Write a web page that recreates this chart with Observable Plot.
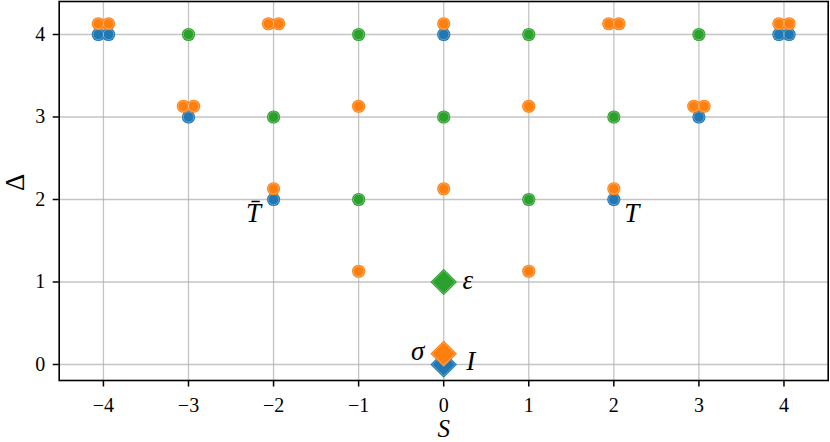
<!DOCTYPE html>
<html><head><meta charset="utf-8">
<script src="https://cdn.jsdelivr.net/npm/d3@7"></script>
<script src="https://cdn.jsdelivr.net/npm/@observablehq/plot@0.6"></script>
<style>
body{margin:0;background:#fff;}
#chart svg{display:block;}
</style></head><body><div id="chart"></div>
<script>
// tick values / labels
const xTicks = [-4, -3, -2, -1, 0, 1, 2, 3, 4];
const xTickLabels = ["−4", "−3", "−2", "−1", "0", "1", "2", "3", "4"];
const yTicks = [0, 1, 2, 3, 4];
const yTickLabels = ["0", "1", "2", "3", "4"];

// blue circles
const blueS = [-4.06, -3.94, 0, 3.94, 4.06, -3, 3, -2, 2];
const blueD = [4, 4, 4, 4, 4, 3, 3, 2, 2];
// orange circles
const orangeS = [-4.06, -3.94, -2.06, -1.94, 0, 1.94, 2.06, 3.94, 4.06,
                 -3.06, -2.94, -1, 1, 2.94, 3.06,
                 -2, 0, 2,
                 -1, 1];
const orangeD = [4.13, 4.13, 4.13, 4.13, 4.13, 4.13, 4.13, 4.13, 4.13,
                 3.13, 3.13, 3.13, 3.13, 3.13, 3.13,
                 2.13, 2.13, 2.13,
                 1.13, 1.13];
// green circles
const greenS = [-3, -1, 1, 3, -2, 0, 2, -1, 1];
const greenD = [4, 4, 4, 4, 3, 3, 3, 2, 2];
// diamonds
const diamondS = [0, 0, 0];
const diamondD = [0, 0.13, 1];
const diamondColor = ["blue", "orange", "green"];
// annotations
const annText = ["T\u0304", "T", "ε", "σ", "I"];
const annS = [-2, 2, 0, 0, 0];
const annD = [2, 2, 1, 0.13, 0];

const colors = {blue: "#1f77b4", orange: "#ff7f0e", green: "#2ca02c"};
const toRows = (S, D, c) => S.map((s, i) => ({S: s, D: D[i], c: c ?? null}));
const blue = toRows(blueS, blueD, "blue");
const orange = toRows(orangeS, orangeD, "orange");
const green = toRows(greenS, greenD, "green");
const diamonds = diamondS.map((s, i) => ({S: s, D: diamondD[i], c: diamondColor[i]}));
const ann = annText.map((t, i) => ({t, S: annS[i], D: annD[i]}));

const fmtX = d => xTickLabels[xTicks.indexOf(d)];
const fmtY = d => yTickLabels[yTicks.indexOf(d)];

const circle = (data) => [
  Plot.dot(data, {x: "S", y: "D", r: 6.6, fill: d => colors[d.c], stroke: "none"}),
  Plot.dot(data, {x: "S", y: "D", r: 5.2, fill: "none", stroke: "#fff", strokeOpacity: 0.45, strokeWidth: 0.7})
];
const diamond = (row) => [
  Plot.dot([row], {x: "S", y: "D", r: 12, symbol: "diamond2", fill: colors[row.c], stroke: "none"}),
  Plot.dot([row], {x: "S", y: "D", r: 10.3, symbol: "diamond2", fill: "none", stroke: "#fff", strokeOpacity: 0.45, strokeWidth: 0.7})
];
const label = (i, dx, dy, fs) => Plot.text([ann[i]], {x: "S", y: "D", text: "t", dx, dy, fontStyle: "italic", fontSize: fs, textAnchor: "middle", lineAnchor: "middle", fill: "#000"});

const chart = Plot.plot({
  width: 830, height: 442,
  marginLeft: 58.7, marginRight: 2.3, marginTop: 1, marginBottom: 62,
  style: {fontFamily: "'Liberation Serif', serif", fontSize: "20px", color: "#000", background: "#fff"},
  x: {domain: [-4.52, 4.52]},
  y: {domain: [-0.194, 4.4]},
  marks: [
    Plot.gridX(xTicks, {stroke: "#b0b0b0", strokeOpacity: 0.75, strokeWidth: 1.3}),
    Plot.gridY(yTicks, {stroke: "#b0b0b0", strokeOpacity: 0.75, strokeWidth: 1.3}),
    Plot.axisX(xTicks, {tickFormat: fmtX, tickSize: 6.5, tickPadding: 11, strokeWidth: 1.5, label: null, fontSize: 20}),
    Plot.axisY(yTicks, {tickFormat: fmtY, tickSize: 6, tickPadding: 8, strokeWidth: 1.5, label: null, fontSize: 20}),
    ...circle(blue),
    ...circle(orange),
    ...circle(green),
    ...diamond(diamonds[0]),
    ...diamond(diamonds[1]),
    ...diamond(diamonds[2]),
    label(0, -20, 14, 27),
    label(1, 18, 14, 27),
    label(2, 24, -2, 27),
    label(3, -26, -2, 27),
    label(4, 27, -3, 27),
    Plot.text(["S"], {frameAnchor: "bottom", dy: 48, fontStyle: "italic", fontSize: 25, lineAnchor: "middle", fill: "#000"}),
    Plot.text(["Δ"], {frameAnchor: "left", dx: -44, rotate: -90, fontSize: 27, lineAnchor: "middle", fill: "#000"}),
    Plot.frame({stroke: "#000", strokeWidth: 1.6})
  ]
});
document.getElementById("chart").appendChild(chart);
</script>
</body></html>
